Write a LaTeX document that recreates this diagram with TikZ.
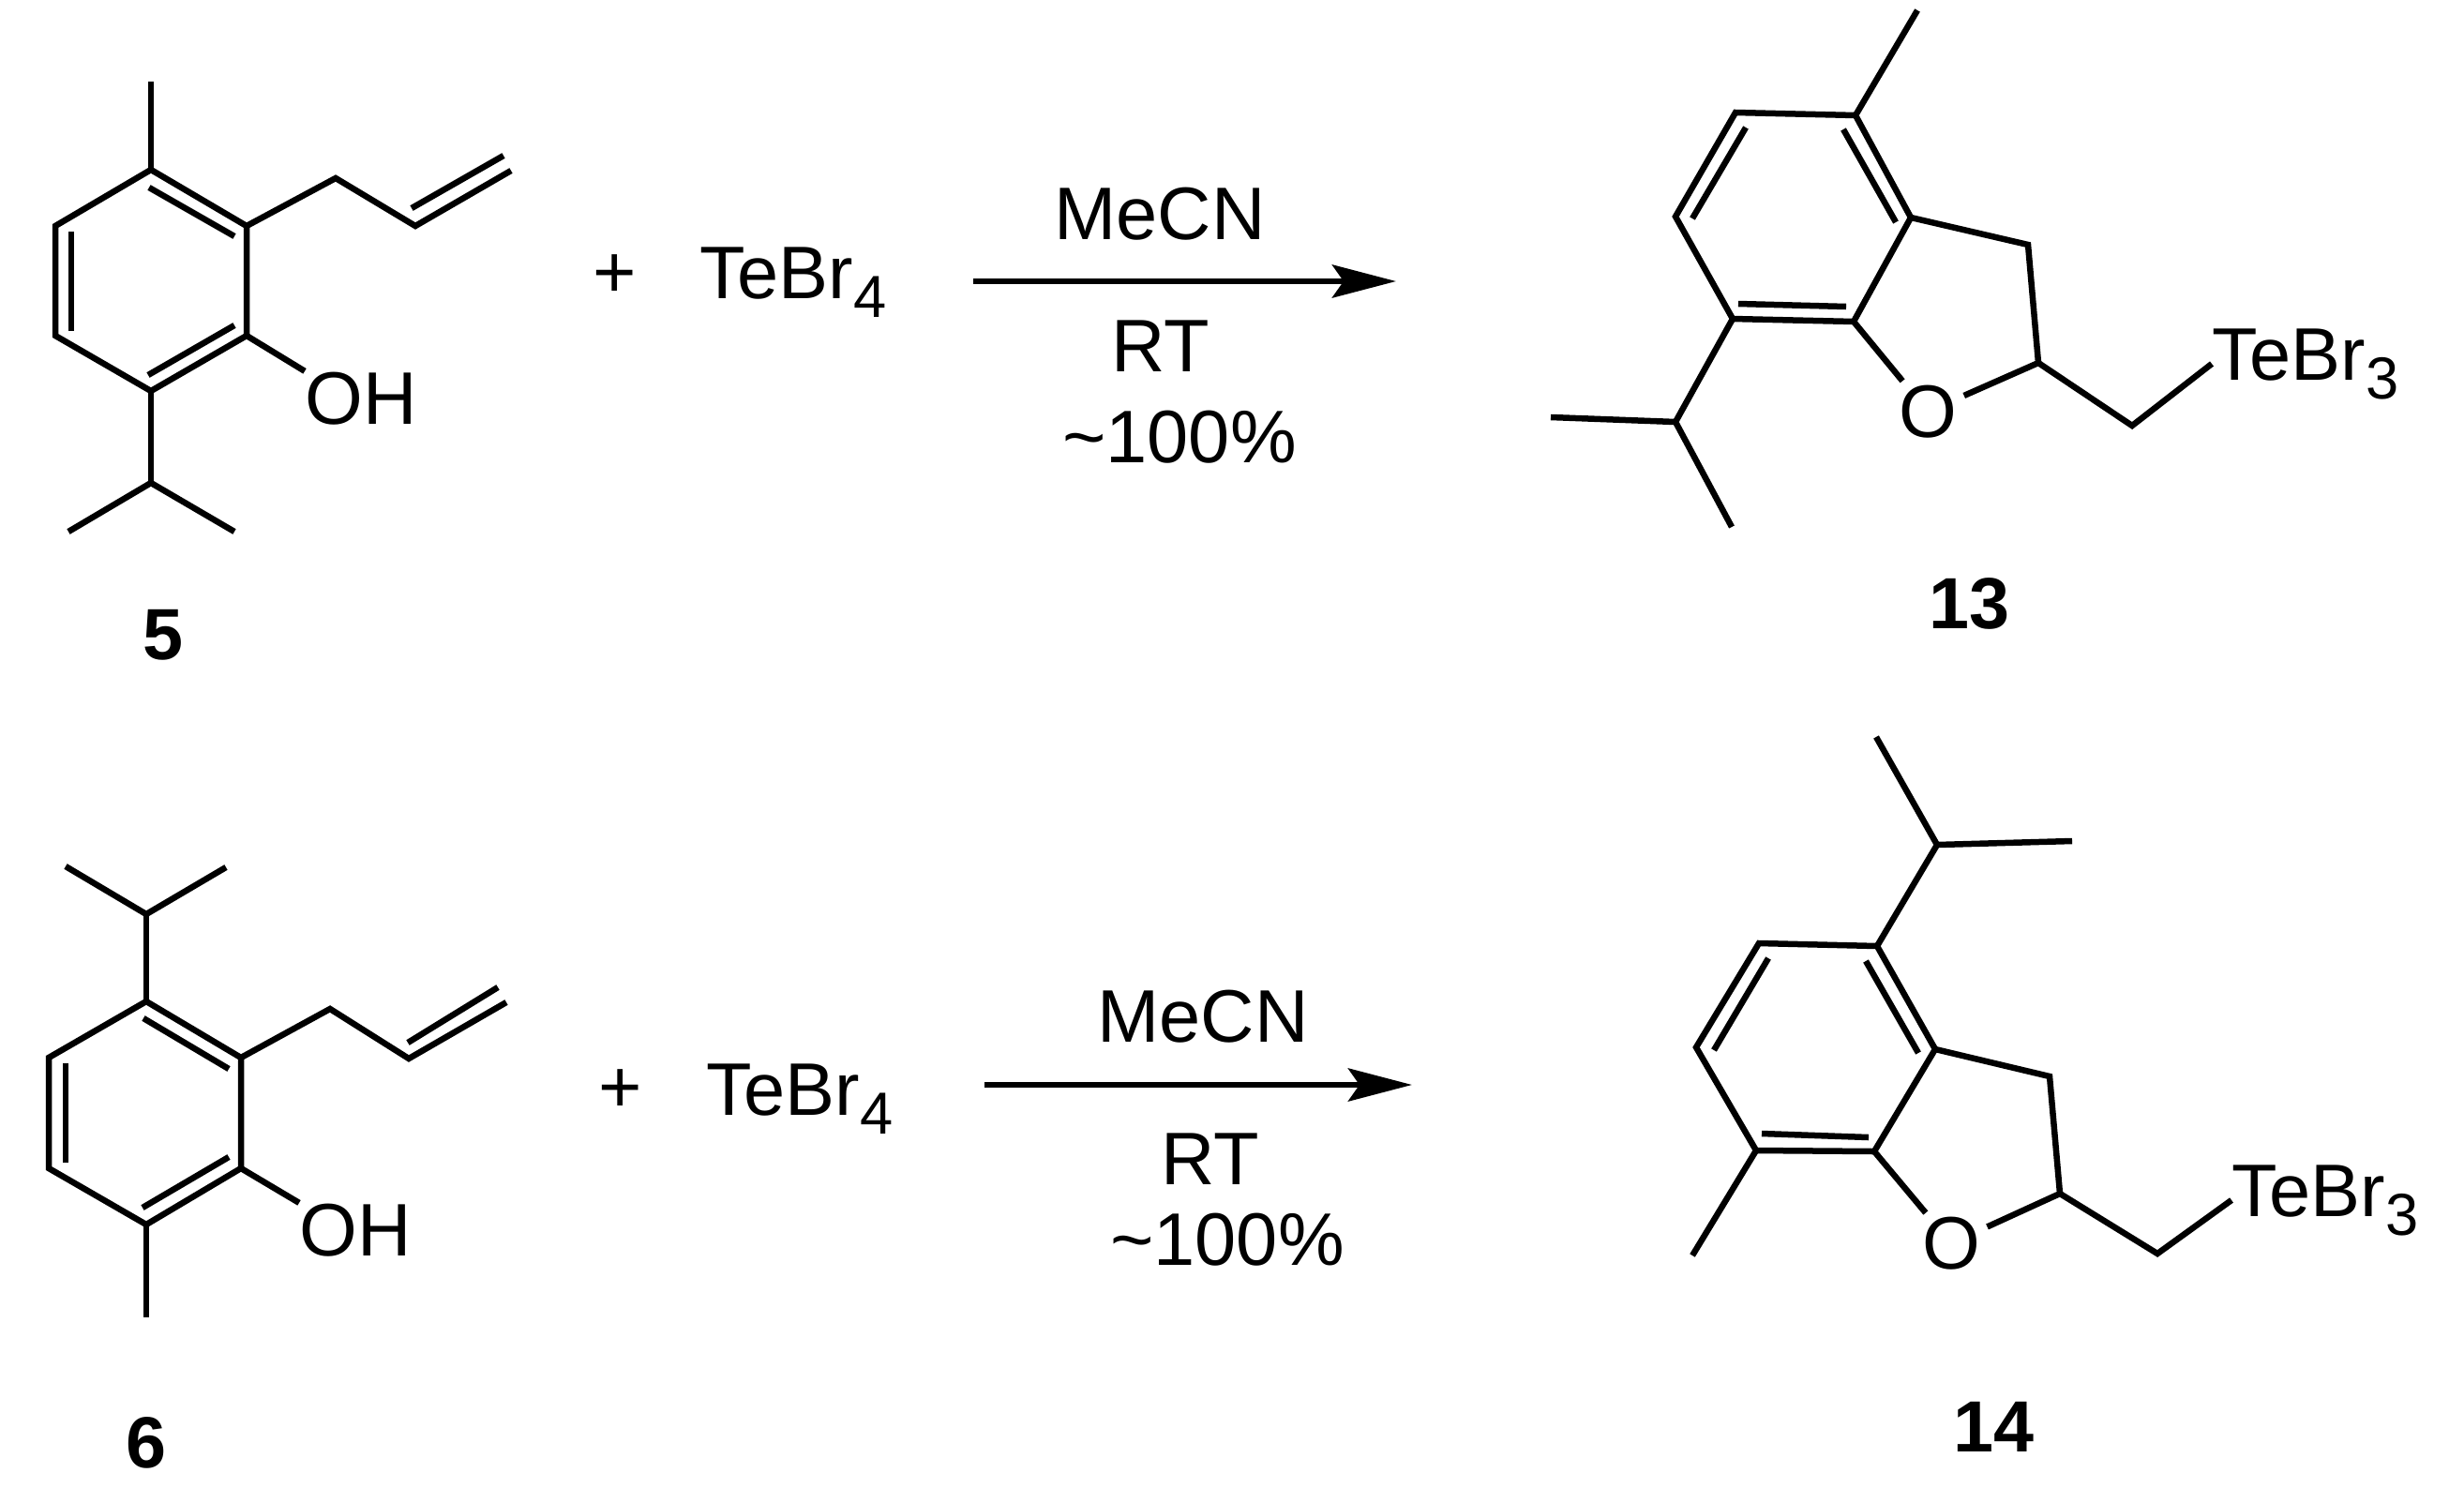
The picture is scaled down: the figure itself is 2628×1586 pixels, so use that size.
\documentclass[tikz,border=0pt]{standalone}
\usepackage{fontspec}
\setmainfont{Liberation Sans}
\usetikzlibrary{arrows.meta}
\tikzset{
	bond/.style={line width=0.65mm,line join=miter},
	rxnarrow/.style={line width=0.68mm,-{Stealth[length=6.8mm,width=3.5mm,inset=1.2mm]}},
	chem/.style={inner sep=0,font=\fontsize{22.6}{26}\selectfont},
	oxygen/.style={chem,circle,minimum size=7mm},
	cmpd/.style={chem,anchor=base,font=\fontsize{22}{26}\selectfont\bfseries},
}
\newcommand{\chemsub}[1]{\raisebox{-2mm}{\fontsize{18}{20}\selectfont #1}}
\begin{document}
\begin{tikzpicture}[x=0.1mm,y=-0.1mm]
	\useasboundingbox (0,0) rectangle (2628,1586);

	\coordinate (a1) at (161,181); \coordinate (a2) at (263,241); \coordinate (a3) at (263,358);
	\coordinate (a4) at (161,417); \coordinate (a5) at (59,358); \coordinate (a6) at (59,241);
	\coordinate (ame) at (161,87); \coordinate (aipr) at (161,515);
	\coordinate (aipa) at (73,567); \coordinate (aipb) at (250,567);
	\coordinate (aal) at (358,190); \coordinate (aalb) at (443,241); \coordinate (aalc) at (545,182);
	\coordinate (ain1) at (159,200); \coordinate (ain2) at (250,252);
	\coordinate (ain3) at (250,347); \coordinate (ain4) at (158,400);
	\coordinate (ain5) at (76,247); \coordinate (ain6) at (76,353);
	\coordinate (ain7) at (439,222); \coordinate (ain8) at (537,166);
	\node [chem,anchor=base west] (oh5) at (325,452) {OH};
	\node [cmpd] (lab5) at (174,703) {5};
	\draw [bond] (a1) -- (a2) -- (a3) -- (a4) -- (a5) -- (a6) -- cycle;
	\draw [bond] (ain1) -- (ain2);
	\draw [bond] (ain3) -- (ain4);
	\draw [bond] (ain5) -- (ain6);
	\draw [bond] (a1) -- (ame);
	\draw [bond] (a4) -- (aipr);
	\draw [bond] (aipa) -- (aipr) -- (aipb);
	\draw [bond] (a2) -- (aal) -- (aalb) -- (aalc);
	\draw [bond] (ain7) -- (ain8);
	\draw [bond] (a3) -- (oh5.north west);

	\node [chem] (plus5) at (656,295) {+};
	\node [chem,anchor=base west] (te5) at (746,318) {TeBr\chemsub{4}};
	\coordinate (arr5a) at (1038,300); \coordinate (arr5b) at (1489,300);
	\draw [rxnarrow] (arr5a) -- (arr5b);
	\node [chem,anchor=base] (mecn5) at (1237,255) {MeCN};
	\node [chem,anchor=base] (rt5) at (1238,396) {RT};
	\node [chem,anchor=base] (yield5) at (1258,493) {\char`\~100\%};

	\coordinate (b1) at (1979,123); \coordinate (b2) at (1851,120); \coordinate (b3) at (1787,231);
	\coordinate (b4) at (1848,340); \coordinate (b5) at (1977,343); \coordinate (b6) at (2038,232);
	\coordinate (bc3) at (2163,261); \coordinate (bc2) at (2174,387); \coordinate (bch) at (2274,454);
	\coordinate (bme) at (2045,11); \coordinate (bipr) at (1787,450);
	\coordinate (bipa) at (1654,445); \coordinate (bipb) at (1847,562);
	\coordinate (bin1) at (1966,138); \coordinate (bin2) at (2022,237);
	\coordinate (bin3) at (1862,136); \coordinate (bin4) at (1805,233);
	\coordinate (bin5) at (1854,324); \coordinate (bin6) at (1969,327);
	\node [oxygen] (o13) at (2056,439) {O};
	\node [chem,anchor=base west] (te13) at (2359,405) {TeBr\chemsub{3}};
	\node [cmpd] (lab13) at (2100,670) {13};
	\draw [bond] (b1) -- (b2) -- (b3) -- (b4) -- (b5) -- (b6) -- cycle;
	\draw [bond] (bin1) -- (bin2);
	\draw [bond] (bin3) -- (bin4);
	\draw [bond] (bin5) -- (bin6);
	\draw [bond] (b1) -- (bme);
	\draw [bond] (b4) -- (bipr);
	\draw [bond] (bipa) -- (bipr) -- (bipb);
	\draw [bond] (b6) -- (bc3) -- (bc2);
	\draw [bond] (b5) -- (o13);
	\draw [bond] (o13) -- (bc2);
	\draw [bond] (bc2) -- (bch) -- (te13.west);

	\coordinate (c1) at (156,1068); \coordinate (c2) at (257,1128); \coordinate (c3) at (257,1246);
	\coordinate (c4) at (156,1306); \coordinate (c5) at (52,1246); \coordinate (c6) at (52,1128);
	\coordinate (cme) at (156,1405); \coordinate (cipr) at (156,975);
	\coordinate (cipa) at (70,924); \coordinate (cipb) at (241,925);
	\coordinate (cal) at (352,1076); \coordinate (calb) at (436,1129); \coordinate (calc) at (540,1069);
	\coordinate (cin1) at (153,1086); \coordinate (cin2) at (244,1140);
	\coordinate (cin3) at (244,1234); \coordinate (cin4) at (152,1288);
	\coordinate (cin5) at (70,1134); \coordinate (cin6) at (70,1240);
	\coordinate (cin7) at (435,1112); \coordinate (cin8) at (531,1053);
	\node [chem,anchor=base west] (oh6) at (319,1339) {OH};
	\node [cmpd] (lab6) at (156,1565) {6};
	\draw [bond] (c1) -- (c2) -- (c3) -- (c4) -- (c5) -- (c6) -- cycle;
	\draw [bond] (cin1) -- (cin2);
	\draw [bond] (cin3) -- (cin4);
	\draw [bond] (cin5) -- (cin6);
	\draw [bond] (c4) -- (cme);
	\draw [bond] (c1) -- (cipr);
	\draw [bond] (cipa) -- (cipr) -- (cipb);
	\draw [bond] (c2) -- (cal) -- (calb) -- (calc);
	\draw [bond] (cin7) -- (cin8);
	\draw [bond] (c3) -- (oh6.north west);

	\node [chem] (plus6) at (662,1164) {+};
	\node [chem,anchor=base west] (te6) at (753,1189) {TeBr\chemsub{4}};
	\coordinate (arr6a) at (1050,1157); \coordinate (arr6b) at (1506,1157);
	\draw [rxnarrow] (arr6a) -- (arr6b);
	\node [chem,anchor=base] (mecn6) at (1283,1111) {MeCN};
	\node [chem,anchor=base] (rt6) at (1291,1263) {RT};
	\node [chem,anchor=base] (yield6) at (1309,1349) {\char`\~100\%};

	\coordinate (d1) at (2002,1009); \coordinate (d2) at (1876,1006); \coordinate (d3) at (1809,1117);
	\coordinate (d4) at (1873,1227); \coordinate (d5) at (1999,1228); \coordinate (d6) at (2064,1119);
	\coordinate (dc3) at (2186,1148); \coordinate (dc2) at (2197,1273); \coordinate (dch) at (2301,1337);
	\coordinate (dme) at (1805,1339); \coordinate (dipr) at (2066,901);
	\coordinate (dipa) at (2001,786); \coordinate (dipb) at (2210,897);
	\coordinate (din1) at (1990,1025); \coordinate (din2) at (2046,1123);
	\coordinate (din3) at (1886,1022); \coordinate (din4) at (1828,1120);
	\coordinate (din5) at (1879,1209); \coordinate (din6) at (1993,1213);
	\node [oxygen] (o14) at (2081,1326) {O};
	\node [chem,anchor=base west] (te14) at (2380,1297) {TeBr\chemsub{3}};
	\node [cmpd] (lab14) at (2126,1548) {14};
	\draw [bond] (d1) -- (d2) -- (d3) -- (d4) -- (d5) -- (d6) -- cycle;
	\draw [bond] (din1) -- (din2);
	\draw [bond] (din3) -- (din4);
	\draw [bond] (din5) -- (din6);
	\draw [bond] (d4) -- (dme);
	\draw [bond] (d1) -- (dipr);
	\draw [bond] (dipa) -- (dipr) -- (dipb);
	\draw [bond] (d6) -- (dc3) -- (dc2);
	\draw [bond] (d5) -- (o14);
	\draw [bond] (o14) -- (dc2);
	\draw [bond] (dc2) -- (dch) -- (te14.west);
\end{tikzpicture}
\end{document}
